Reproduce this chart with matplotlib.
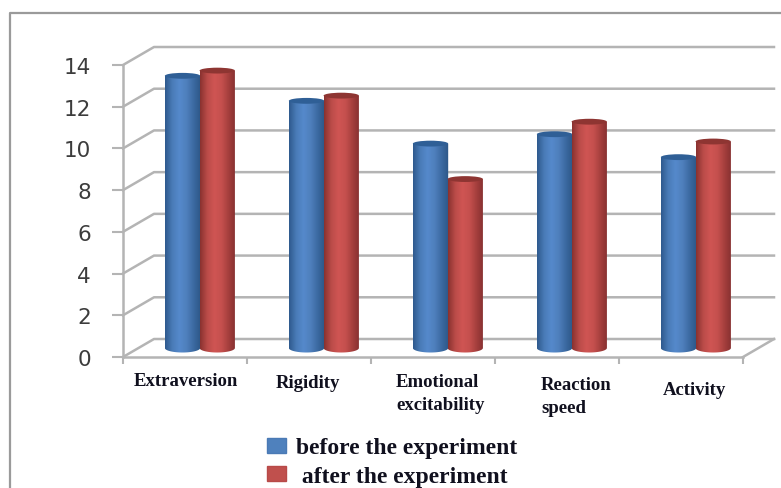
import numpy as np
import matplotlib
matplotlib.use("Agg")
import matplotlib.pyplot as plt
from matplotlib.colors import LinearSegmentedColormap
from matplotlib.lines import Line2D
from matplotlib.patches import Ellipse, PathPatch, Patch
from matplotlib.path import Path

categories = ["Extraversion", "Rigidity", "Emotional\nexcitability", "Reaction\nspeed", "Activity"]
before = [13.05, 11.85, 9.8, 10.25, 9.15]
after = [13.3, 12.1, 8.1, 10.85, 9.9]
y_ticks = [0, 2, 4, 6, 8, 10, 12, 14]
series_names = ["before the experiment", " after the experiment"]

W, H = 781, 489
GRID = "#b4b4b4"
DX, DY = 31/124, 18/20.86    # depth of the fake 3d floor in data units
CAP = 4.5/20.86
BAR_W = 0.285

blue_cm = LinearSegmentedColormap.from_list("b", ["#2f5a8e", "#4a7cb8", "#5589cb", "#4f80bd", "#3c6aa2", "#2d5787"])
red_cm = LinearSegmentedColormap.from_list("r", ["#8a3230", "#bb4c49", "#cf5553", "#c5504e", "#a53f3d", "#853030"])

fig = plt.figure(figsize=(W/100, H/100), dpi=100)
ax = fig.add_axes([123/W, 1-358/H, 620/W, 292/H], xlim=(0, 5), ylim=(0, 14))
ax.patch.set_visible(False)

# outer frame of the picture
fig.add_artist(Line2D([10/W, 10/W, 1], [0, 1-14/H, 1-14/H], color="#9a9a9a", lw=1.6))

for s in ["top", "right"]:
    ax.spines[s].set_visible(False)
for s in ["left", "bottom"]:
    ax.spines[s].set_color(GRID)
    ax.spines[s].set_linewidth(1.8)

ax.set_yticks(y_ticks)
ax.set_xticks(range(6))
ax.set_xticklabels([])
ax.tick_params(axis="y", length=8, width=1.5, color=GRID, pad=15, labelsize=15.5, labelcolor="#3c3c3c")
ax.tick_params(axis="x", length=5, width=1.5, color=GRID)

# back wall
for v in y_ticks:
    ax.plot([0, DX, 5+DX], [v, v+DY, v+DY], color=GRID, lw=1.8, clip_on=False, zorder=1)
ax.plot([5, 5+DX], [0, DY], color=GRID, lw=1.8, clip_on=False, zorder=1)

def cylinder(x, v, cmap, top_color, z):
    t = np.linspace(np.pi, 2*np.pi, 40)
    base = DY/2
    xs = x + BAR_W/2*np.cos(t)
    ys = base + CAP*np.sin(t)
    verts = list(zip(xs, ys)) + [(x+BAR_W/2, base+v), (x-BAR_W/2, base+v), (xs[0], ys[0])]
    clip = PathPatch(Path(verts), transform=ax.transData, fc="none", ec="none")
    ax.add_patch(clip)
    im = ax.imshow(np.linspace(0, 1, 64).reshape(1, -1), cmap=cmap, aspect="auto", zorder=z,
                   extent=(x-BAR_W/2, x+BAR_W/2, base-CAP, base+v))
    im.set_clip_path(clip)
    ax.add_patch(Ellipse((x, base+v), BAR_W, 2*CAP*0.65, fc=top_color, ec="none", zorder=z+0.1))

for i in range(len(categories)):
    cylinder(i+0.48, before[i], blue_cm, "#2f5f96", 3)
    cylinder(i+0.76, after[i], red_cm, "#8e3532", 4)
ax.set_xlim(0, 5)
ax.set_ylim(0, 14)

# category labels sit a little unevenly in the original
label_x = [134, 276, 396, 541, 663]
label_y = [373, 375, 374, 377, 382]
for name, px, py in zip(categories, label_x, label_y):
    fig.text(px/W, 1-py/H, name, family="Liberation Serif", fontweight="bold", fontsize=13.5,
             color="#10101e", va="top", ha="left", linespacing=1.45)

handles = [Patch(fc="#4f81bd", ec="#4a7ab5"), Patch(fc="#c0504d", ec="#b84a48")]
fig.legend(handles, series_names, loc="upper left", bbox_to_anchor=(265/W, 1-436/H), frameon=False,
           prop={"family": "Liberation Serif", "weight": "bold", "size": 17}, labelcolor="#10101e",
           handlelength=0.78, handleheight=0.6, handletextpad=0.42, labelspacing=0.33, borderpad=0.1, borderaxespad=0)

fig.savefig("out.png", dpi=100)
